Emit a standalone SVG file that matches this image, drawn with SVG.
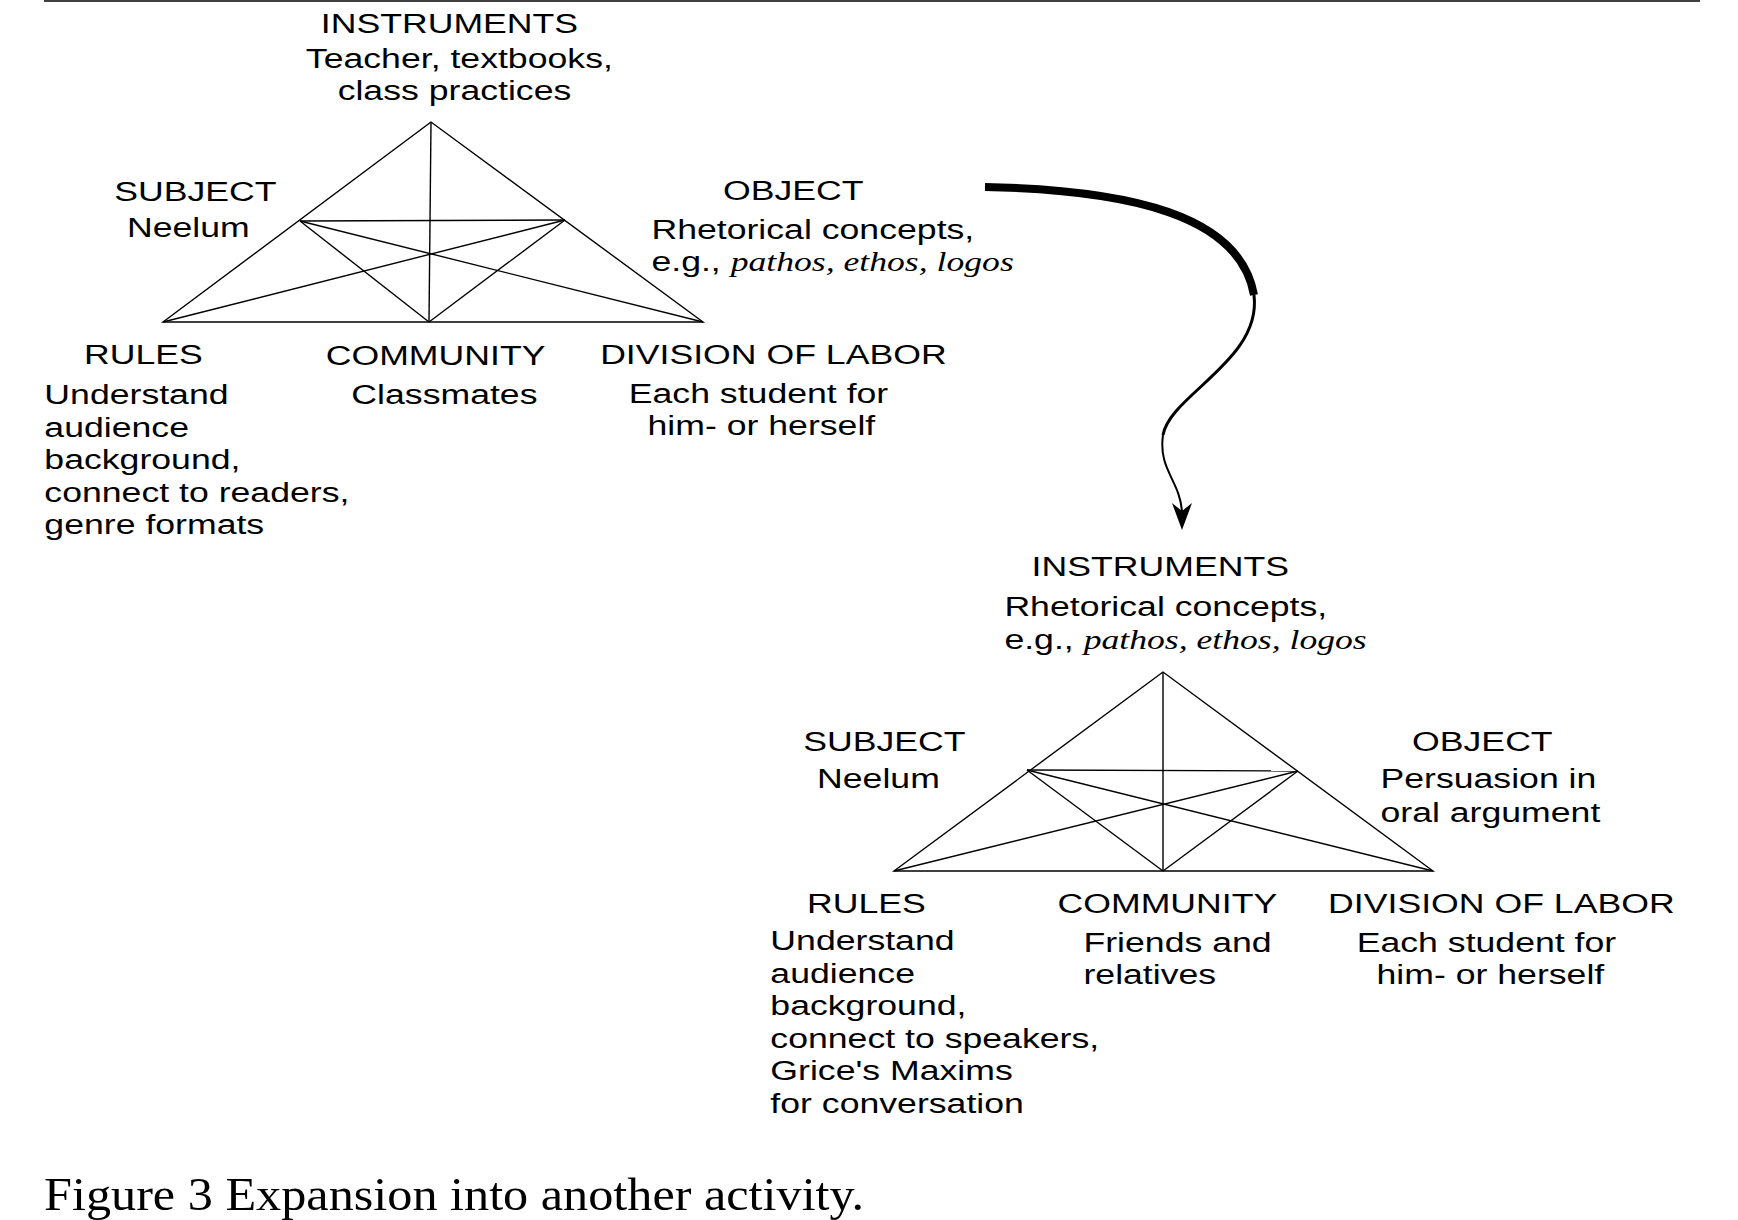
<svg xmlns="http://www.w3.org/2000/svg" width="1738" height="1220" viewBox="0 0 1738 1220">
<style>
.t{font-family:"Liberation Sans",Arial,sans-serif;font-size:27px;fill:#000}
.m{text-anchor:middle}
.i{font-family:"Liberation Serif","Times New Roman",serif;font-style:italic}
.ln{stroke:#000;stroke-width:1.4;fill:none}
.cap{font-family:"Liberation Serif","Times New Roman",serif;font-size:46px;fill:#000}
</style>
<rect width="1738" height="1220" fill="#fff"/>
<line x1="44" y1="1" x2="1700" y2="1" stroke="#000" stroke-width="1.5"/>
<g id="triangle1" class="ln">
<polygon points="431,122 163,322 703,322"/>
<line x1="431" y1="122" x2="429" y2="322"/>
<line x1="300" y1="221" x2="565" y2="220"/>
<line x1="300" y1="221" x2="429" y2="322"/>
<line x1="565" y1="220" x2="429" y2="322"/>
<line x1="300" y1="221" x2="703" y2="322"/>
<line x1="565" y1="220" x2="163" y2="322"/>
</g>
<g id="triangle2" class="ln">
<polygon points="1163,672 894,871 1433,871"/>
<line x1="1163" y1="672" x2="1163" y2="871"/>
<line x1="1027" y1="770" x2="1298" y2="771"/>
<line x1="1027" y1="770" x2="1163" y2="871"/>
<line x1="1298" y1="771" x2="1163" y2="871"/>
<line x1="1027" y1="770" x2="1433" y2="871"/>
<line x1="1298" y1="771" x2="894" y2="871"/>
</g>
<g id="connectors">
<path d="M985,187 C1130,190 1240,215 1254,295" fill="none" stroke="#000" stroke-width="8"/>
<path d="M1254,295 C1262,360 1170,395 1163,435" fill="none" stroke="#000" stroke-width="3"/>
<path d="M1163,435 C1158,470 1180,480 1182,512" fill="none" stroke="#000" stroke-width="2"/>
<polygon points="1182,530 1172,503 1182,511 1192,503" fill="#000"/>
</g>
<g transform="scale(1.32,1)">
<g id="d1-instruments" class="t m"><text x="340.5" y="33">INSTRUMENTS</text><text x="348" y="68">Teacher, textbooks,</text><text x="344.3" y="100">class practices</text></g>
<g id="d1-subject" class="t m"><text x="148" y="201">SUBJECT</text><text x="142.7" y="237">Neelum</text></g>
<g id="d1-object" class="t"><text x="601" y="200" class="m">OBJECT</text><text x="493.5" y="239">Rhetorical concepts,</text><text x="493.5" y="271">e.g., <tspan class="i">pathos, ethos, logos</tspan></text></g>
<g id="d1-rules" class="t"><text x="108.6" y="364" class="m">RULES</text><text x="33.6" y="404">Understand</text><text x="33.6" y="437">audience</text><text x="33.6" y="469">background,</text><text x="33.6" y="502">connect to readers,</text><text x="33.6" y="534">genre formats</text></g>
<g id="d1-community" class="t m"><text x="330" y="365">COMMUNITY</text><text x="336.7" y="404">Classmates</text></g>
<g id="d1-division" class="t m"><text x="585.9" y="364">DIVISION OF LABOR</text><text x="574.6" y="403">Each student for</text><text x="576.8" y="435">him- or herself</text></g>
<g id="d2-instruments" class="t"><text x="879" y="576" class="m">INSTRUMENTS</text><text x="760.9" y="616">Rhetorical concepts,</text><text x="760.9" y="649">e.g., <tspan class="i">pathos, ethos, logos</tspan></text></g>
<g id="d2-subject" class="t m"><text x="670" y="751">SUBJECT</text><text x="665.5" y="788">Neelum</text></g>
<g id="d2-object" class="t"><text x="1123" y="751" class="m">OBJECT</text><text x="1045.8" y="788">Persuasion in</text><text x="1045.8" y="822">oral argument</text></g>
<g id="d2-rules" class="t"><text x="656.4" y="913" class="m">RULES</text><text x="583.6" y="950">Understand</text><text x="583.6" y="983">audience</text><text x="583.6" y="1015">background,</text><text x="583.6" y="1048">connect to speakers,</text><text x="583.6" y="1080">Grice's Maxims</text><text x="583.6" y="1113">for conversation</text></g>
<g id="d2-community" class="t"><text x="884.4" y="913" class="m">COMMUNITY</text><text x="820.8" y="952">Friends and</text><text x="820.8" y="984">relatives</text></g>
<g id="d2-division" class="t m"><text x="1137.4" y="913">DIVISION OF LABOR</text><text x="1126.1" y="952">Each student for</text><text x="1129.1" y="984">him- or herself</text></g>
</g>
<text class="cap" x="44" y="1210" textLength="820" lengthAdjust="spacingAndGlyphs">Figure 3 Expansion into another activity.</text>
</svg>
